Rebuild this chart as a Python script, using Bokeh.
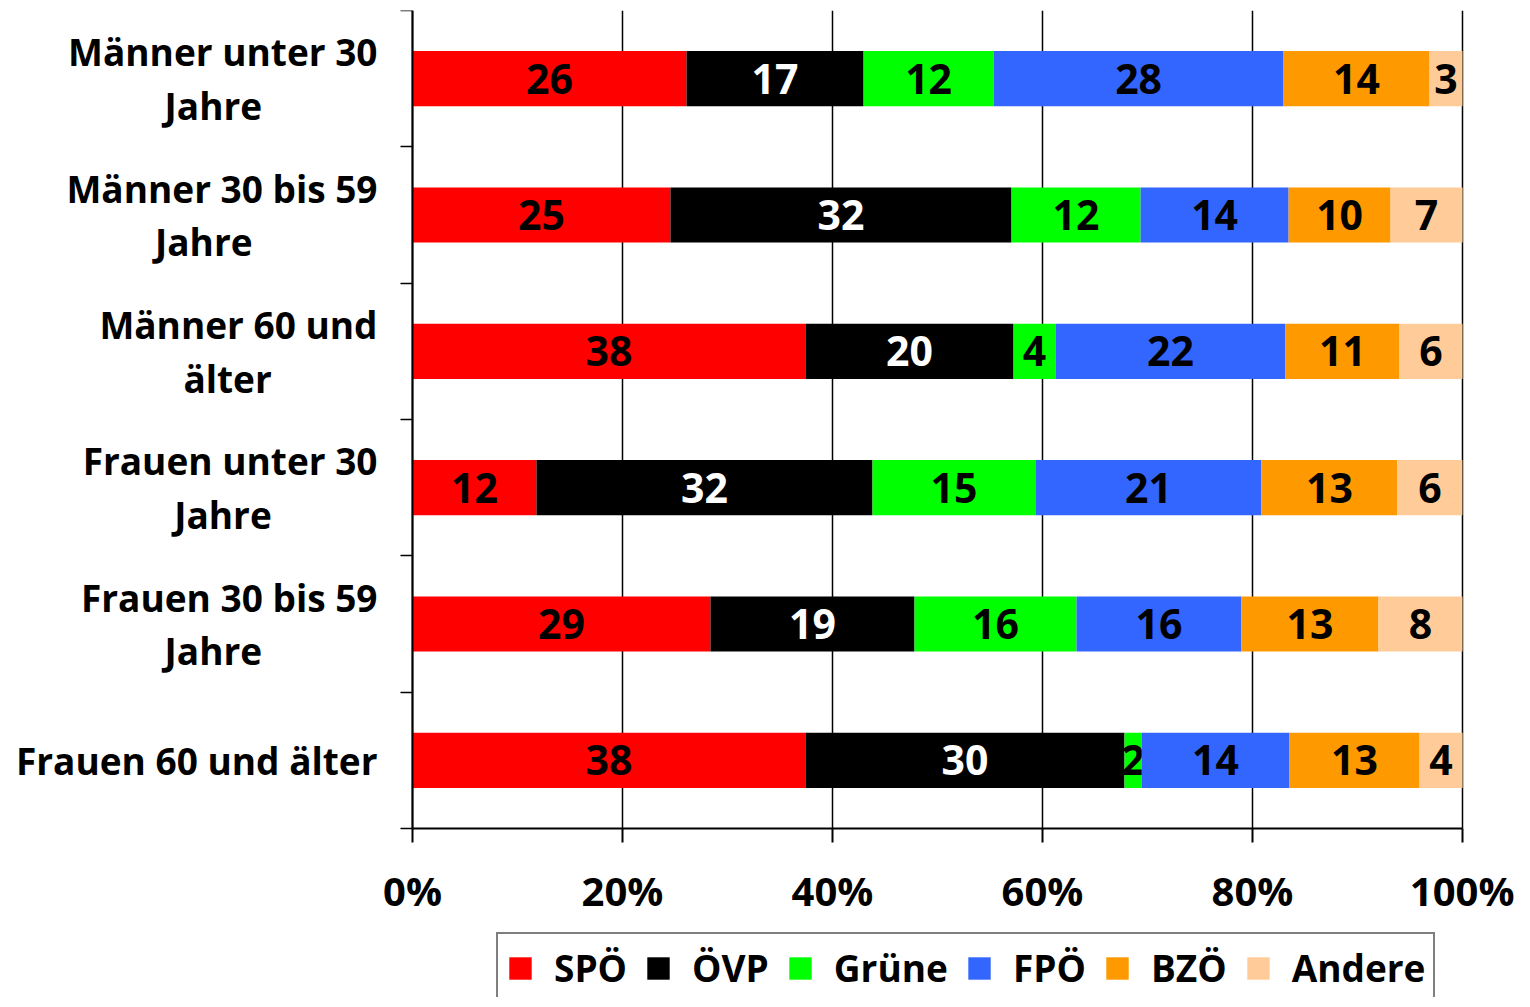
from bokeh.plotting import figure
from bokeh.models import (ColumnDataSource, FixedTicker, Range1d, Legend, LegendItem)
from bokeh.core.properties import value
from bokeh.embed import file_html
from bokeh.resources import INLINE

# ---------------- data ----------------
categories = [
    "Männer unter 30\nJahre",
    "Männer 30 bis 59\nJahre",
    "Männer 60 und\nälter",
    "Frauen unter 30\nJahre",
    "Frauen 30 bis 59\nJahre",
    "Frauen 60 und älter",
]
parties = ["SPÖ", "ÖVP", "Grüne", "FPÖ", "BZÖ", "Andere"]
colors = ["#FF0000", "#000000", "#00FF00", "#3366FF", "#FF9900", "#FFCC99"]
label_colors = ["black", "white", "black", "black", "black", "black"]

# shares as drawn (percent of bar), one list per party, rows top to bottom
spoe   = [26.1, 24.57, 37.43, 11.81, 28.38, 37.43]
oevp   = [16.86, 32.48, 19.81, 32.0, 19.43, 30.38]
gruene = [12.38, 12.29, 4.0, 15.52, 15.43, 1.62]
fpoe   = [27.62, 14.1, 21.9, 21.52, 15.71, 14.1]
bzoe   = [13.9, 9.71, 10.86, 12.95, 13.05, 12.38]
andere = [3.14, 6.86, 6.0, 6.19, 8.0, 4.1]

# printed value labels
spoe_lbl   = [26, 25, 38, 12, 29, 38]
oevp_lbl   = [17, 32, 20, 32, 19, 30]
gruene_lbl = [12, 12, 4, 15, 16, 2]
fpoe_lbl   = [28, 14, 22, 21, 16, 14]
bzoe_lbl   = [14, 10, 11, 13, 13, 13]
andere_lbl = [3, 7, 6, 6, 8, 4]

x_ticks = [0, 20, 40, 60, 80, 100]
x_tick_labels = ["0%", "20%", "40%", "60%", "80%", "100%"]

series = [spoe, oevp, gruene, fpoe, bzoe, andere]
labels = [spoe_lbl, oevp_lbl, gruene_lbl, fpoe_lbl, bzoe_lbl, andere_lbl]

n = len(categories)
ypos = [n - i - 0.5 for i in range(n)]

FONT = "Open Sans"

# The frame covers the whole canvas so that axis labels and the legend are drawn
# inside it; the bar area itself is 1050 x 818 px, starting 412 px from the left.
CANVAS_W = 1514
CANVAS_H = 997
TOP = 10
BAR_LEFT = 412
BAR_W = 1050
BAR_H = 818
px_x = BAR_W / 100.0
px_y = BAR_H / n
x_start = -BAR_LEFT / px_x
x_end = 100 + (CANVAS_W - BAR_LEFT - BAR_W) / px_x
y_start = n - (CANVAS_H - TOP) / px_y

p = figure(frame_width=CANVAS_W, frame_height=CANVAS_H - TOP, output_backend="svg",
           toolbar_location=None,
           x_range=Range1d(x_start, x_end), y_range=Range1d(y_start, n),
           min_border_left=0, min_border_right=0, min_border_top=TOP,
           min_border_bottom=0)
p.outline_line_color = None
p.background_fill_color = "white"
p.border_fill_color = "white"
p.xgrid.grid_line_color = None
p.ygrid.grid_line_color = None

# vertical grid lines over the category area
p.segment(x0=x_ticks, y0=[0] * len(x_ticks), x1=x_ticks, y1=[n] * len(x_ticks),
          line_color="black", line_width=1.5)

legend_items = []
left = [0.0] * n
for k, (vals, lbls) in enumerate(zip(series, labels)):
    right = [l + v for l, v in zip(left, vals)]
    mid = [(l + r) / 2 for l, r in zip(left, right)]
    src = ColumnDataSource(dict(y=ypos, left=left, right=right, mid=mid,
                                txt=[str(t) for t in lbls]))
    r = p.hbar(y="y", left="left", right="right", height=0.405, source=src,
               fill_color=colors[k], line_color=None)
    p.text(x="mid", y="y", text="txt", source=src, text_align="center",
           text_baseline="middle", text_color=label_colors[k],
           text_font=value(FONT), text_font_style="bold", text_font_size="41px")
    legend_items.append(LegendItem(label=parties[k], renderers=[r]))
    left = right

# x axis, fixed at y = 0
xax = p.xaxis[0]
xax.fixed_location = 0
xax.bounds = (0, 100)
xax.ticker = FixedTicker(ticks=x_ticks)
xax.major_label_overrides = {t: s for t, s in zip(x_ticks, x_tick_labels)}
xax.axis_line_width = 2
xax.axis_line_color = "black"
xax.major_tick_out = 14
xax.major_tick_in = 0
xax.major_tick_line_width = 2
xax.minor_tick_line_color = None
xax.major_label_text_font = FONT
xax.major_label_text_font_style = "bold"
xax.major_label_text_font_size = "40px"
xax.major_label_text_color = "black"
xax.major_label_standoff = 20

# y axis, fixed at x = 0: category labels at band centres, ticks between categories
NB = "\u00a0"
pads = [12, 13, 11, 11, 12, 0]   # keeps the second line centred under the first
ylabels = []
for c, k in zip(categories, pads):
    parts = c.split("\n")
    if len(parts) == 2:
        ylabels.append(parts[0] + "\n" + parts[1] + NB * k)
    else:
        ylabels.append(c)

yax = p.yaxis[0]
yax.fixed_location = 0
yax.bounds = (0, n)
yax.ticker = FixedTicker(ticks=ypos, minor_ticks=list(range(n + 1)))
yax.major_label_overrides = {y: c for y, c in zip(ypos, ylabels)}
yax.axis_line_width = 2
yax.axis_line_color = "black"
yax.major_tick_out = 0
yax.major_tick_in = 0
yax.major_tick_line_color = None
yax.minor_tick_out = 12
yax.minor_tick_in = 0
yax.minor_tick_line_color = "black"
yax.minor_tick_line_width = 1.5
yax.major_label_text_font = FONT
yax.major_label_text_font_style = "bold"
yax.major_label_text_font_size = "37px"
yax.major_label_text_color = "black"
yax.major_label_text_line_height = 1.05
yax.major_label_standoff = 23

legend = Legend(items=legend_items, orientation="horizontal", location=(BAR_LEFT + 84, -6),
                label_text_font=FONT, label_text_font_style="bold",
                label_text_font_size="37px", label_text_color="black",
                glyph_width=28, glyph_height=28, label_standoff=20, spacing=17,
                padding=8, margin=0, border_line_color="black", border_line_width=2,
                background_fill_color="white", background_fill_alpha=1.0)
p.add_layout(legend, "center")

open("out.html", "w").write(file_html(p, INLINE))
